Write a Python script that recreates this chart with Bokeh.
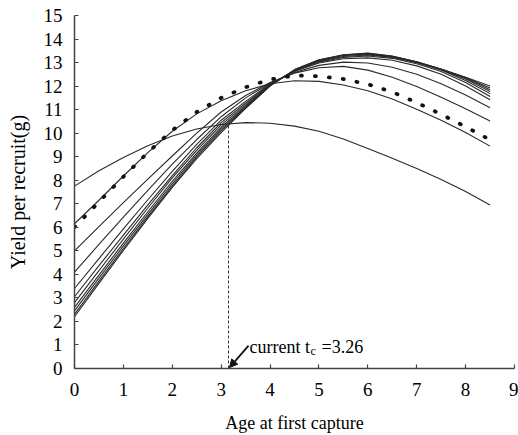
from bokeh.plotting import figure
from bokeh.models import Range1d, Arrow, NormalHead, FixedTicker
from bokeh.embed import file_html
from bokeh.resources import INLINE
from bokeh.core.properties import value

# Age at first capture (x)
age = [0.0, 0.5, 1.0, 1.5, 2.0, 2.5, 3.0, 3.5, 4.0, 4.5, 5.0, 5.5, 6.0, 6.5, 7.0, 7.5, 8.0, 8.5]

# Yield per recruit (g), one series per fishing mortality level
ypr_f1 = [7.75, 8.4, 8.97, 9.47, 9.88, 10.18, 10.37, 10.45, 10.42, 10.3, 10.08, 9.75, 9.35, 8.93, 8.5, 8.03, 7.52, 6.95]
ypr_f2 = [6.15, 7.15, 8.18, 9.17, 10.08, 10.82, 11.38, 11.8, 12.1, 12.23, 12.2, 12.05, 11.8, 11.45, 11.02, 10.55, 10.03, 9.45]
ypr_f3 = [5.0, 6.03, 7.05, 8.05, 9.03, 10.0, 10.9, 11.6, 12.15, 12.55, 12.78, 12.84, 12.68, 12.38, 11.98, 11.53, 11.04, 10.52]
ypr_f4 = [4.1, 5.27, 6.43, 7.57, 8.68, 9.73, 10.7, 11.5, 12.12, 12.58, 12.88, 13.02, 12.98, 12.8, 12.5, 12.1, 11.62, 11.08]
ypr_f5 = [3.4, 4.67, 5.93, 7.17, 8.38, 9.52, 10.55, 11.35, 12.1, 12.62, 12.98, 13.16, 13.2, 13.1, 12.86, 12.5, 12.0, 11.42]
ypr_f6 = [3.05, 4.37, 5.67, 6.95, 8.2, 9.38, 10.45, 11.27, 12.08, 12.64, 13.02, 13.22, 13.28, 13.18, 12.95, 12.62, 12.15, 11.56]
ypr_f7 = [2.8, 4.16, 5.5, 6.82, 8.1, 9.27, 10.35, 11.2, 12.06, 12.65, 13.05, 13.26, 13.32, 13.22, 12.99, 12.68, 12.24, 11.68]
ypr_f8 = [2.6, 3.97, 5.33, 6.66, 7.95, 9.15, 10.25, 11.15, 12.04, 12.67, 13.08, 13.3, 13.35, 13.24, 13.01, 12.7, 12.3, 11.77]
ypr_f9 = [2.45, 3.84, 5.21, 6.55, 7.85, 9.07, 10.17, 11.1, 12.02, 12.68, 13.1, 13.31, 13.37, 13.26, 13.02, 12.71, 12.34, 11.85]
ypr_f10 = [2.3, 3.71, 5.1, 6.45, 7.76, 8.99, 10.1, 11.07, 12.01, 12.69, 13.11, 13.32, 13.39, 13.27, 13.03, 12.72, 12.36, 11.92]
ypr_f11 = [2.2, 3.62, 5.02, 6.38, 7.7, 8.92, 10.02, 11.05, 12.0, 12.7, 13.12, 13.33, 13.4, 13.28, 13.03, 12.73, 12.38, 12.0]
# current fishing mortality (dotted curve)
ypr_current = [6.0, 7.08, 8.15, 9.18, 10.12, 10.9, 11.5, 11.95, 12.28, 12.45, 12.42, 12.3, 12.08, 11.75, 11.3, 10.8, 10.27, 9.72]

# current age at first capture (position as drawn) and its label
tc_x = [3.15, 3.15]
tc_y = [0.0, 10.42]
tc_label = "3.26"

x_ticks = [0, 1, 2, 3, 4, 5, 6, 7, 8, 9]
y_ticks = list(range(0, 16))

FONT = "Liberation Serif"

p = figure(width=518, height=435, x_range=Range1d(0, 9), y_range=Range1d(0, 15),
           output_backend="svg", toolbar_location=None,
           min_border_left=74, min_border_right=4, min_border_top=15, min_border_bottom=66)
p.outline_line_color = None
p.xgrid.visible = False
p.ygrid.visible = False
p.background_fill_color = "white"
p.border_fill_color = "white"

for ys in [ypr_f1, ypr_f2, ypr_f3, ypr_f4, ypr_f5, ypr_f6, ypr_f7, ypr_f8, ypr_f9, ypr_f10, ypr_f11]:
    p.line(age, ys, line_color="#2a2a2a", line_width=1.1)

p.line(age, ypr_current, line_color="#111111", line_width=3.8, line_dash="1 13", line_cap="round")

p.line(tc_x, tc_y, line_color="#333333", line_width=1, line_dash="3 2")

p.add_layout(Arrow(end=NormalHead(size=8, fill_color="#111111", line_color="#111111"),
                   x_start=3.56, y_start=0.97, x_end=3.17, y_end=0.04,
                   line_color="#111111", line_width=1.8))

p.text(x=[3.58], y=[0.93], text=["current t"], text_font=value(FONT), text_font_size="18px",
       text_color="black", text_baseline="alphabetic", text_align="left")
p.text(x=[3.58], y=[0.93], text=["c"], text_font=value(FONT), text_font_size="12px",
       text_color="black", text_baseline="alphabetic", text_align="left", x_offset=61, y_offset=4)
p.text(x=[3.58], y=[0.93], text=["=" + tc_label], text_font=value(FONT), text_font_size="18px",
       text_color="black", text_baseline="alphabetic", text_align="left", x_offset=72)

for ax in (p.xaxis[0], p.yaxis[0]):
    ax.axis_line_color = "#444444"
    ax.axis_line_width = 1.5
    ax.major_tick_line_color = "#444444"
    ax.major_tick_line_width = 1.2
    ax.major_tick_in = 4
    ax.major_tick_out = 0
    ax.minor_tick_line_color = None
    ax.major_label_text_font = FONT
    ax.major_label_text_color = "black"
    ax.axis_label_text_font = FONT
    ax.axis_label_text_font_style = "normal"
    ax.axis_label_text_color = "black"

p.xaxis.ticker = FixedTicker(ticks=x_ticks)
p.yaxis.ticker = FixedTicker(ticks=y_ticks)
p.xaxis.major_label_text_font_size = "19px"
p.yaxis.major_label_text_font_size = "19px"
p.xaxis.major_label_standoff = 14
p.yaxis.major_label_standoff = 12
p.xaxis.axis_label = "Age at first capture"
p.yaxis.axis_label = "Yield per recruit(g)"
p.xaxis.axis_label_text_font_size = "18px"
p.yaxis.axis_label_text_font_size = "20px"
p.xaxis.axis_label_standoff = 14
p.yaxis.axis_label_standoff = 12

open("out.html", "w").write(file_html(p, INLINE))
